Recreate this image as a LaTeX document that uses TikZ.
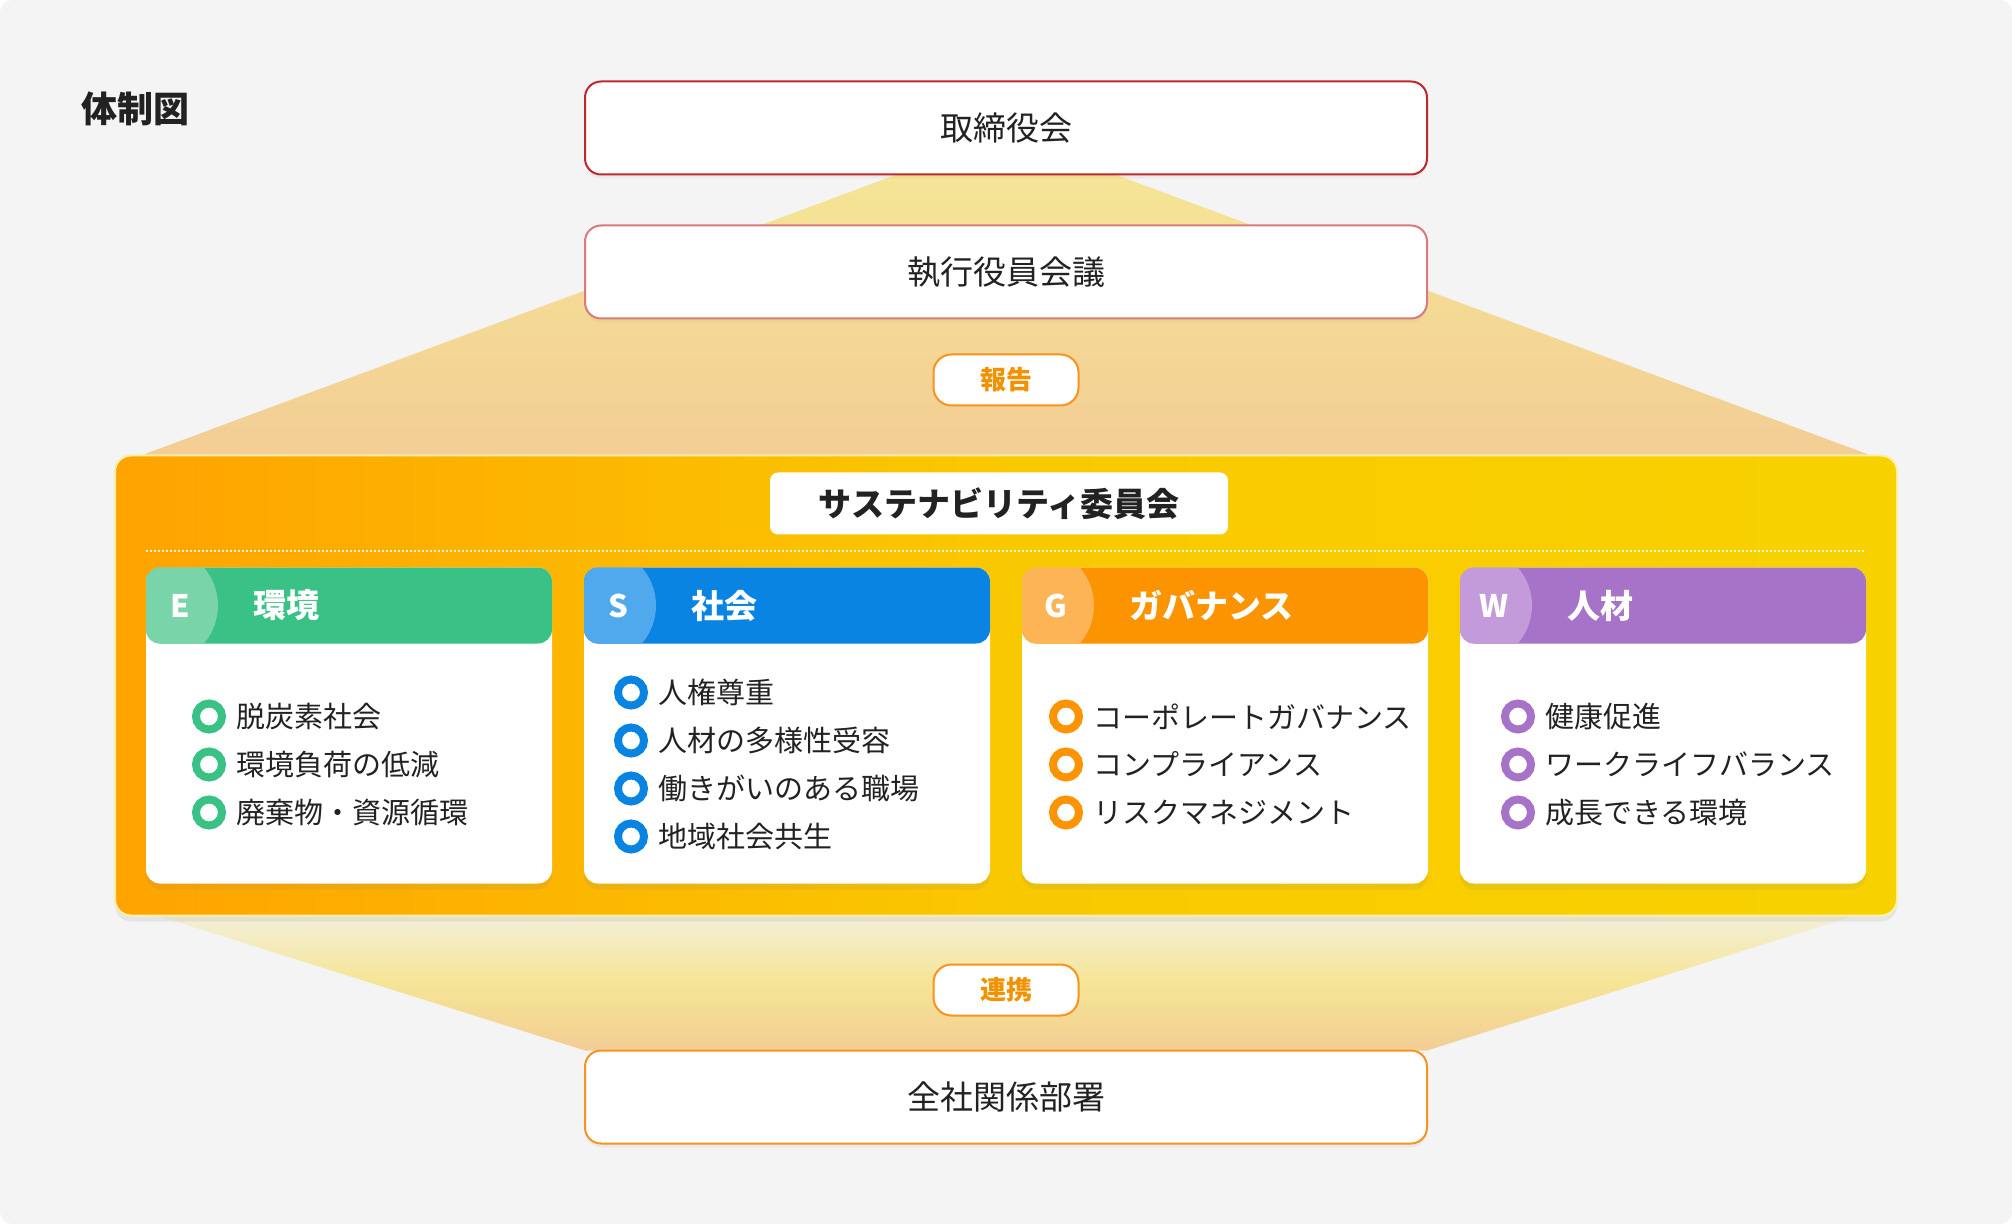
\documentclass[tikz,border=0pt]{standalone}
\usepackage{fontspec}
\setmainfont{Noto Sans CJK JP}
\usepackage{xcolor}
\usepackage{tikz}
\definecolor{canvasgray}{HTML}{F4F4F4}
\definecolor{inkdark}{HTML}{222222}
\definecolor{boardred}{HTML}{C1272D}
\definecolor{execred}{HTML}{DA7A7D}
\definecolor{linkorange}{HTML}{F7931E}
\definecolor{pilltext}{HTML}{F39200}
\definecolor{commorange}{HTML}{FFA300}
\definecolor{commyellow}{HTML}{F8D200}
\definecolor{commedge}{HTML}{FFF0A8}
\definecolor{funnelyellow}{HTML}{F5E595}
\definecolor{funnelpeach}{HTML}{F3CD95}
\definecolor{funnelcream}{HTML}{F3EFD9}
\definecolor{envgreen}{HTML}{3AC186}
\definecolor{envlight}{HTML}{79D4AA}
\definecolor{socblue}{HTML}{0A84E3}
\definecolor{soclight}{HTML}{51A9ED}
\definecolor{govorange}{HTML}{FB9400}
\definecolor{govlight}{HTML}{FCB457}
\definecolor{hrpurple}{HTML}{A773C9}
\definecolor{hrlight}{HTML}{C39BDA}
\usetikzlibrary{positioning, calc, backgrounds, shadows}
\pgfdeclarelayer{canvas}
\pgfsetlayers{canvas,background,main}

\begin{document}
\begin{tikzpicture}[
    x=0.5pt, y=-0.5pt,
    every node/.style={font=\fontsize{14.5pt}{17pt}\selectfont, text=inkdark,
                       inner sep=0pt, outer sep=0pt},
    orgbox/.style={rectangle, fill=white, line width=1pt, minimum width=421pt,
                   minimum height=46.5pt, rounded corners=8pt,
                   font=\fontsize{16.5pt}{20pt}\selectfont,
                   drop shadow={shadow xshift=0pt, shadow yshift=-2pt, opacity=0.08}},
    pillbox/.style={rectangle, fill=white, draw=linkorange, line width=1pt,
                    minimum width=72.5pt, minimum height=25.5pt, rounded corners=9pt,
                    text=pilltext, font=\bfseries\fontsize{13pt}{15pt}\selectfont},
    commbox/.style={rectangle, draw=commedge, line width=1pt, rounded corners=8pt,
                    left color=commorange, right color=commyellow,
                    middle color=commyellow!80!commorange,
                    minimum width=891pt, minimum height=230pt,
                    drop shadow={shadow xshift=0pt, shadow yshift=-3pt, opacity=0.12}},
    commtitle/.style={rectangle, fill=white, rounded corners=4pt,
                      minimum width=229pt, minimum height=31pt,
                      font=\bfseries\fontsize{16.5pt}{20pt}\selectfont},
    card/.style={rectangle, fill=white, rounded corners=7pt, anchor=north west,
                 minimum width=203pt, minimum height=158pt,
                 drop shadow={shadow xshift=0pt, shadow yshift=-3pt, opacity=0.12}},
    cardhead/.style={rectangle, fill=#1, rounded corners=7pt, anchor=north west,
                     minimum width=203pt, minimum height=38pt},
    headletter/.style={text=white, font=\bfseries\fontsize{15.5pt}{18pt}\selectfont},
    headname/.style={text=white, anchor=west, font=\bfseries\fontsize{16.5pt}{20pt}\selectfont},
    ring/.style={circle, draw=#1, fill=white, line width=4pt, minimum size=13pt},
    itemtext/.style={font=\fontsize{14.5pt}{17pt}\selectfont},
    dotrule/.style={draw=white, opacity=0.85, line width=1pt, dash pattern=on 1pt off 1pt}
]
    % Canvas
    \begin{pgfonlayer}{canvas}
        \fill[canvasgray, rounded corners=6pt] (0,0) rectangle (2012,1224);
    \end{pgfonlayer}
    \useasboundingbox (0,0) rectangle (2012,1224);

    \node[anchor=west, font=\bfseries\fontsize{18pt}{21pt}\selectfont] (title) at (81,109) {体制図};

    % Management side
    \node[orgbox, draw=boardred] (board) at (1006,128) {取締役会};
    \node[orgbox, draw=execred, below=25.5pt of board] (exec) {執行役員会議};
    \node[pillbox, below=18pt of exec] (report) {報告};

    % Committee
    \node[commbox, below=25pt of report] (comm) {};
    \node[commtitle] (commtitle) at ([xshift=-3.5pt, yshift=-24pt]comm.north) {サステナビリティ委員会};

    \node[card] (cardE) at ([xshift=15.5pt, yshift=-56pt]comm.north west) {};
    \node[card, right=16pt of cardE] (cardS) {};
    \node[card, right=16pt of cardS] (cardG) {};
    \node[card, right=16pt of cardG] (cardW) {};
    \draw[dotrule] ([yshift=8pt]cardE.north west) -- ([yshift=8pt]cardW.north east);

    % Card headers
    \node[cardhead=envgreen] (headE) at (cardE.north west) {};
    \node[cardhead=socblue] (headS) at (cardS.north west) {};
    \node[cardhead=govorange] (headG) at (cardG.north west) {};
    \node[cardhead=hrpurple] (headW) at (cardW.north west) {};
    \begin{scope}
        \clip[rounded corners=7pt] (headE.north west) rectangle (headE.south east);
        \fill[envlight] ([xshift=7pt]headE.west) circle (29pt);
    \end{scope}
    \begin{scope}
        \clip[rounded corners=7pt] (headS.north west) rectangle (headS.south east);
        \fill[soclight] ([xshift=7pt]headS.west) circle (29pt);
    \end{scope}
    \begin{scope}
        \clip[rounded corners=7pt] (headG.north west) rectangle (headG.south east);
        \fill[govlight] ([xshift=7pt]headG.west) circle (29pt);
    \end{scope}
    \begin{scope}
        \clip[rounded corners=7pt] (headW.north west) rectangle (headW.south east);
        \fill[hrlight] ([xshift=7pt]headW.west) circle (29pt);
    \end{scope}
    \node[headletter] at ([xshift=17pt]headE.west) {E};
    \node[headletter] at ([xshift=17pt]headS.west) {S};
    \node[headletter] at ([xshift=17pt]headG.west) {G};
    \node[headletter] at ([xshift=17pt]headW.west) {W};
    \node[headname] at ([xshift=53.5pt]headE.west) {環境};
    \node[headname] at ([xshift=53.5pt]headS.west) {社会};
    \node[headname] at ([xshift=53.5pt]headG.west) {ガバナンス};
    \node[headname] at ([xshift=53.5pt]headW.west) {人材};

    % Environment items
    \node[ring=envgreen] (e1) at ([xshift=31.5pt, yshift=-74.5pt]cardE.north west) {};
    \node[ring=envgreen, below=11pt of e1] (e2) {};
    \node[ring=envgreen, below=11pt of e2] (e3) {};
    \node[itemtext, right=7pt of e1] (e1t) {脱炭素社会};
    \node[itemtext, right=7pt of e2] (e2t) {環境負荷の低減};
    \node[itemtext, right=7pt of e3] (e3t) {廃棄物・資源循環};

    % Social items
    \node[ring=socblue] (s1) at ([xshift=23.5pt, yshift=-62.5pt]cardS.north west) {};
    \node[ring=socblue, below=11pt of s1] (s2) {};
    \node[ring=socblue, below=11pt of s2] (s3) {};
    \node[ring=socblue, below=11pt of s3] (s4) {};
    \node[itemtext, right=7pt of s1] (s1t) {人権尊重};
    \node[itemtext, right=7pt of s2] (s2t) {人材の多様性受容};
    \node[itemtext, right=7pt of s3] (s3t) {働きがいのある職場};
    \node[itemtext, right=7pt of s4] (s4t) {地域社会共生};

    % Governance items
    \node[ring=govorange] (g1) at ([xshift=22pt, yshift=-74.5pt]cardG.north west) {};
    \node[ring=govorange, below=11pt of g1] (g2) {};
    \node[ring=govorange, below=11pt of g2] (g3) {};
    \node[itemtext, right=7pt of g1] (g1t) {コーポレートガバナンス};
    \node[itemtext, right=7pt of g2] (g2t) {コンプライアンス};
    \node[itemtext, right=7pt of g3] (g3t) {リスクマネジメント};

    % Human resources items
    \node[ring=hrpurple] (w1) at ([xshift=29pt, yshift=-74.5pt]cardW.north west) {};
    \node[ring=hrpurple, below=11pt of w1] (w2) {};
    \node[ring=hrpurple, below=11pt of w2] (w3) {};
    \node[itemtext, right=7pt of w1] (w1t) {健康促進};
    \node[itemtext, right=7pt of w2] (w2t) {ワークライフバランス};
    \node[itemtext, right=7pt of w3] (w3t) {成長できる環境};

    % Company side
    \node[pillbox, below=24.5pt of comm] (link) {連携};
    \node[orgbox, draw=linkorange, below=17.5pt of link] (allbox) {全社関係部署};

    % Funnels
    \begin{pgfonlayer}{background}
        \shade[top color=funnelyellow, bottom color=funnelpeach]
            ([xshift=-54.5pt]board.south) -- ([xshift=54.5pt]board.south)
            -- ([xshift=-13pt]comm.north east) -- ([xshift=13pt]comm.north west) -- cycle;
        \shade[top color=funnelcream, bottom color=funnelpeach, middle color=funnelyellow]
            ([xshift=21pt]comm.south west) -- ([xshift=-21pt]comm.south east)
            -- (allbox.north east) -- (allbox.north west) -- cycle;
    \end{pgfonlayer}
\end{tikzpicture}
\end{document}
